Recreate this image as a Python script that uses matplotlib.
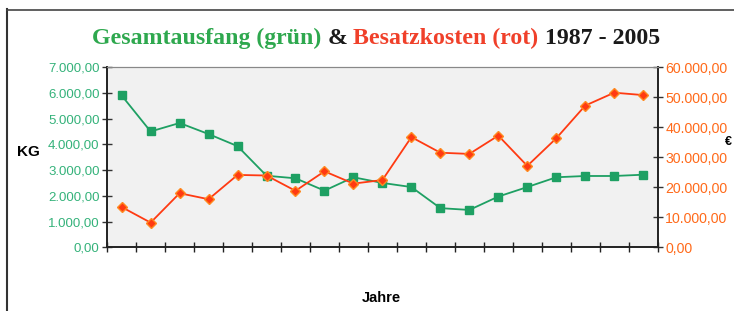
import matplotlib
matplotlib.use("Agg")
import matplotlib.pyplot as plt
from matplotlib.ticker import FuncFormatter, FixedLocator

YEARS = list(range(1987, 2006))

# Gesamtausfang in kg (linke Achse)
CATCH_KG = [5900, 4500, 4830, 4400, 3930, 2780, 2680, 2200, 2720, 2500,
            2340, 1520, 1450, 1970, 2340, 2720, 2770, 2770, 2820]

# Besatzkosten in Euro (rechte Achse)
STOCKING_EUR = [13400, 8200, 18000, 16000, 24100, 23900, 18800, 25300, 21200, 22400,
                36700, 31500, 31100, 37200, 27100, 36300, 47200, 51500, 50700]

LEFT_TICKS = [0, 1000, 2000, 3000, 4000, 5000, 6000, 7000]
RIGHT_TICKS = [0, 10000, 20000, 30000, 40000, 50000, 60000]

GREEN = "#1ea063"
GREEN_TXT = "#34b27a"
RED = "#ff3a12"
ORANGE_TXT = "#ff6a1a"


def de_fmt(v, pos=None):
    s = f"{v:,.2f}"
    return s.replace(",", "X").replace(".", ",").replace("X", ".")


fig = plt.figure(figsize=(7.34, 3.11), dpi=100)
fig.patch.set_facecolor("white")

ax = fig.add_axes([0.146, 0.205, 0.75, 0.579])
ax2 = ax.twinx()

n = len(YEARS)
xs = [i + 0.5 for i in range(n)]

ax.set_facecolor("#f1f1f1")
ax.plot(xs, CATCH_KG, color=GREEN, lw=1.3, marker="s", ms=5.5,
        markerfacecolor=GREEN, markeredgecolor=GREEN, zorder=3)
ax2.plot(xs, STOCKING_EUR, color=RED, lw=1.3, marker="D", ms=5,
         markerfacecolor=RED, markeredgecolor="#ff8a20", zorder=3)

ax.set_xlim(0, n)
ax.set_ylim(0, 7000)
ax2.set_ylim(0, 60000)

ax.xaxis.set_major_locator(FixedLocator(range(n + 1)))
ax.set_xticklabels([])
ax.tick_params(axis="x", direction="inout", length=7, width=1, color="#222222")

ax.yaxis.set_major_locator(FixedLocator(LEFT_TICKS))
ax.yaxis.set_major_formatter(FuncFormatter(de_fmt))
ax.tick_params(axis="y", direction="inout", length=7, width=1, color="#333333",
               labelcolor=GREEN_TXT, labelsize=9.5, pad=2)

ax2.yaxis.set_major_locator(FixedLocator(RIGHT_TICKS))
ax2.yaxis.set_major_formatter(FuncFormatter(de_fmt))
ax2.tick_params(axis="y", direction="inout", length=7, width=1, color="#333333",
                labelcolor=ORANGE_TXT, labelsize=10.2, pad=2)

for a in (ax, ax2):
    for lab in a.get_yticklabels():
        lab.set_family("Liberation Sans")
    a.spines["top"].set_color("#888888")
    a.spines["top"].set_linewidth(0.8)
    for side in ("left", "right", "bottom"):
        a.spines[side].set_color("#222222")
        a.spines[side].set_linewidth(1.2)

# Titel in mehreren Farben
title_parts = [("Gesamtausfang (grün)", "#2ea84e"), (" & ", "#1a1a1a"),
               ("Besatzkosten (rot)", "#f0402a"), (" 1987 - 2005", "#1a1a1a")]
renderer = fig.canvas.get_renderer()
texts = []
for txt, col in title_parts:
    t = fig.text(0, 0.875, txt, color=col, fontsize=17.2, fontweight="bold",
                 family="Liberation Serif", va="center", ha="left")
    texts.append(t)
widths = [t.get_window_extent(renderer).width for t in texts]
total = sum(widths)
x0 = 376 - total / 2
for t, w in zip(texts, widths):
    t.set_x(x0 / 734)
    x0 += w

fig.text(28 / 734, 1 - 152 / 311, "KG", fontsize=11, fontweight="bold",
         family="Liberation Sans", ha="center", va="center")
fig.text(381 / 734, 1 - 298 / 311, "Jahre", fontsize=10.5, fontweight="bold",
         family="Liberation Sans", ha="center", va="center")
fig.text(725 / 734, 1 - 142 / 311, "€", fontsize=9, fontweight="bold",
         family="Liberation Sans", ha="left", va="center")

# gescannter Rahmen
fig.add_artist(plt.Line2D([7 / 734, 7 / 734], [0, 1 - 9 / 311],
                          transform=fig.transFigure, color="#333333", lw=1.5))
fig.add_artist(plt.Line2D([7 / 734, 1], [1 - 9.5 / 311, 1 - 9.5 / 311],
                          transform=fig.transFigure, color="#444444", lw=1.2))

fig.savefig("out.png", dpi=100)
